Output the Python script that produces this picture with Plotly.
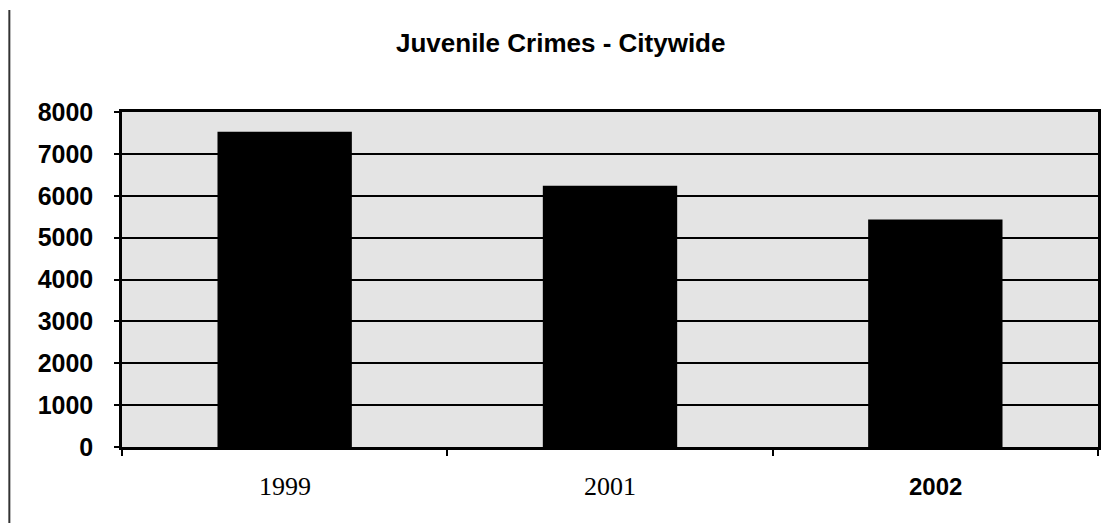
import plotly.graph_objects as go

title_text = "Juvenile Crimes - Citywide"
years = ["1999", "2001", "2002"]
crimes = [7530, 6240, 5430]
y_ticks = [0, 1000, 2000, 3000, 4000, 5000, 6000, 7000, 8000]
label_fonts = [
    dict(family="Liberation Serif, Times New Roman, serif", size=26, color="black"),
    dict(family="Liberation Serif, Times New Roman, serif", size=26, color="black"),
    dict(family="Liberation Sans, Arial, sans-serif", size=24, color="black", weight="bold"),
]

OFF = 8  # page body margin
W, H = 1111 - OFF, 523 - OFF
# target plot area in screen pixels: x 122..1101, y 112..447
L, R, T = 122 - OFF, 1111 - 1101, 112 - OFF
B = H - (447 - OFF)
pw, ph = W - L - R, H - T - B

def px_x(x):
    return (x - OFF - L) / pw

def px_y(y):
    return (H - B - (y - OFF)) / ph

fig = go.Figure()
fig.add_trace(go.Bar(x=years, y=crimes, marker=dict(color="black", line=dict(width=0)),
                     hoverinfo="x+y"))

annotations = [
    dict(text="<b>" + title_text + "</b>", xref="paper", yref="paper",
         x=px_x(562), y=px_y(43), xanchor="center", yanchor="middle", showarrow=False,
         font=dict(family="Liberation Sans, Arial, sans-serif", size=26, color="black")),
]
for i, (yr, f) in enumerate(zip(years, label_fonts)):
    annotations.append(dict(text=yr, x=i, xref="x", yref="paper", y=px_y(486),
                            xanchor="center", yanchor="middle", showarrow=False, font=f))

fig.update_layout(
    width=W, height=H,
    margin=dict(l=L, r=R, t=T, b=B),
    paper_bgcolor="white",
    plot_bgcolor="#e4e4e4",
    bargap=0.587,
    showlegend=False,
    annotations=annotations,
    shapes=[dict(type="line", xref="paper", yref="paper",
                 x0=px_x(9), x1=px_x(9), y0=px_y(10), y1=px_y(530),
                 line=dict(color="#333333", width=2))],
    xaxis=dict(type="category", range=[-0.5, 2.5], showticklabels=False,
               tickson="boundaries",
               ticks="outside", ticklen=6, tickwidth=1.5, tickcolor="black",
               showline=True, linecolor="black", linewidth=2.5, mirror=True,
               showgrid=False, zeroline=False),
    yaxis=dict(range=[0, 8000], tickvals=y_ticks, ticks="outside", ticklen=5,
               tickwidth=1.5, tickcolor="black",
               showline=True, linecolor="black", linewidth=2.5, mirror=True,
               showgrid=True, gridcolor="black", gridwidth=2, zeroline=False,
               ticklabelstandoff=16,
               tickfont=dict(family="Liberation Sans, Arial, sans-serif", size=25,
                             color="black", weight="bold")),
)

fig.write_html("out.html")
